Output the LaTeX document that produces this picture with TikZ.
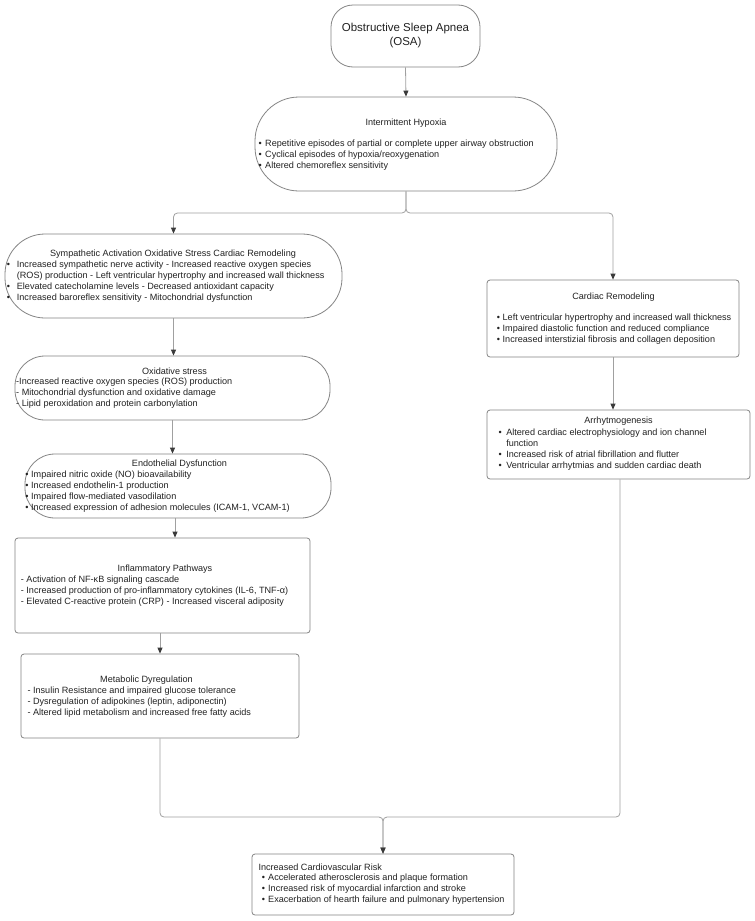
\documentclass[tikz,border=0pt]{standalone}
\usepackage{fontspec}
\setmainfont{Liberation Sans}
\usetikzlibrary{arrows.meta,calc}
\definecolor{boxline}{HTML}{858585}
\definecolor{conline}{HTML}{A0A0A0}
\definecolor{tipcol}{HTML}{3A3A3A}
\definecolor{txt}{HTML}{222222}
\newcommand\mybul[1]{•\hspace{#1}}
\newcommand\myind[1]{\hphantom{•}\hspace{#1}}
\newcommand\fst{\rule{0pt}{7pt}}
\begin{document}
\begin{tikzpicture}[x=1pt,y=-1pt,
  box/.style={draw=boxline, line width=0.8pt, inner sep=0pt},
  rbox/.style={box, rounded corners=3pt},
  con/.style={draw=conline, line width=0.8pt, rounded corners=4pt},
  arrw/.style={con, -{Triangle[width=5pt,length=6pt,color=tipcol]}},
  ttl/.style={inner sep=0pt, text=txt, font=\fontsize{9.1}{11}\selectfont, anchor=base},
  body/.style={inner sep=0pt, text=txt, font=\fontsize{9.1}{11}\selectfont, align=left, anchor=north west},
]
\fill[white] (0,0) rectangle (755,921);
\useasboundingbox (0,0) rectangle (755,921);

% Obstructive Sleep Apnea
\node[box, rounded corners=22pt, minimum width=149pt, minimum height=62pt, align=center,
      font=\fontsize{11.5}{14}\selectfont, text=txt] (osa) at (405.5,36) {Obstructive Sleep Apnea\\(OSA)};

% Intermittent Hypoxia
\node[box, rounded corners=44pt, minimum width=302pt, minimum height=94pt] (hyp) at (406,144) {};
\node[ttl] (hypT) at (406,125) {Intermittent Hypoxia};
\node[body] (hypB) at (258.4,139.5) {\fst\mybul{3.4pt}Repetitive episodes of partial or complete upper airway obstruction\\
\mybul{3.4pt}Cyclical episodes of hypoxia/reoxygenation\\
\mybul{3.4pt}Altered chemoreflex sensitivity};

% Sympathetic activation
\node[box, rounded corners=40pt, minimum width=337pt, minimum height=84pt] (symp) at (173.5,276) {};
\node[ttl] (sympT) at (173,256) {Sympathetic Activation Oxidative Stress Cardiac Remodeling};
\node[body] (sympB) at (6.7,260.3) {\fst\mybul{6.8pt}Increased sympathetic nerve activity - Increased reactive oxygen species\\
\myind{6.8pt}(ROS) production - Left ventricular hypertrophy and increased wall thickness\\
\mybul{6.8pt}Elevated catecholamine levels - Decreased antioxidant capacity\\
\mybul{6.8pt}Increased baroreflex sensitivity - Mitochondrial dysfunction};

% Oxidative stress
\node[box, rounded corners=30pt, minimum width=315pt, minimum height=64pt] (oxi) at (172.5,388) {};
\node[ttl] (oxiT) at (174.5,374) {Oxidative stress};
\node[body] (oxiB) at (16,377.7) {\fst-Increased reactive oxygen species (ROS) production\\
- Mitochondrial dysfunction and oxidative damage\\
- Lipid peroxidation and protein carbonylation};

% Endothelial dysfunction
\node[box, rounded corners=30pt, minimum width=306pt, minimum height=64pt] (endo) at (178,486) {};
\node[ttl] (endoT) at (179.5,466.3) {Endothelial Dysfunction};
\node[body] (endoB) at (25.1,470.3) {\fst\mybul{2.7pt}Impaired nitric oxide (NO) bioavailability\\
\mybul{2.7pt}Increased endothelin-1 production\\
\mybul{2.7pt}Impaired flow-mediated vasodilation\\
\mybul{2.7pt}Increased expression of adhesion molecules (ICAM-1, VCAM-1)};

% Inflammatory pathways
\node[rbox, minimum width=295pt, minimum height=95pt] (infl) at (162.5,585.5) {};
\node[ttl] (inflT) at (165,571.3) {Inflammatory Pathways};
\node[body] (inflB) at (20.7,575.3) {\fst- Activation of NF-κB signaling cascade\\
- Increased production of pro-inflammatory cytokines (IL-6, TNF-α)\\
- Elevated C-reactive protein (CRP) - Increased visceral adiposity};

% Metabolic dysregulation
\node[rbox, minimum width=278pt, minimum height=84pt] (meta) at (160,696) {};
\node[ttl] (metaT) at (146.5,682) {Metabolic Dyregulation};
\node[body] (metaB) at (27.3,686) {\fst- Insulin Resistance and impaired glucose tolerance\\
- Dysregulation of adipokines (leptin, adiponectin)\\
- Altered lipid metabolism and increased free fatty acids};

% Cardiac remodeling
\node[rbox, minimum width=252pt, minimum height=77pt] (card) at (613,318.5) {};
\node[ttl] (cardT) at (613.5,299) {Cardiac Remodeling};
\node[body] (cardB) at (496.7,313.7) {\fst\mybul{2.6pt}Left ventricular hypertrophy and increased wall thickness\\
\mybul{2.6pt}Impaired diastolic function and reduced compliance\\
\mybul{2.6pt}Increased interstizial fibrosis and collagen deposition};

% Arrhythmogenesis
\node[rbox, minimum width=263pt, minimum height=69pt] (arrh) at (618.5,444.5) {};
\node[ttl] (arrhT) at (618.5,423.7) {Arrhytmogenesis};
\node[body] (arrhB) at (498.4,428.5) {\fst\mybul{4.5pt}Altered cardiac electrophysiology and ion channel\\
\myind{4.5pt}function\\
\mybul{4.5pt}Increased risk of atrial fibrillation and flutter\\
\mybul{4.5pt}Ventricular arrhytmias and sudden cardiac death};

% Increased cardiovascular risk
\node[rbox, minimum width=262pt, minimum height=61pt] (fin) at (383,884.5) {};
\node[ttl, anchor=base west] (finT) at (258.3,870.3) {Increased Cardiovascular Risk};
\node[body] (finB) at (261.7,873.3) {\fst\mybul{3.1pt}Accelerated atherosclerosis and plaque formation\\
\mybul{3.1pt}Increased risk of myocardial infarction and stroke\\
\mybul{3.1pt}Exacerbation of hearth failure and pulmonary hypertension};

% connectors
\coordinate (split) at (404,213);
\coordinate (merge) at (383,817);
\draw[arrw] (osa.south) -- (hyp.north);
\draw[arrw] (hyp.south) -- (hyp.south |- split) -- (split -| symp.north) -- (symp.north);
\draw[arrw] (hyp.south) -- (hyp.south |- split) -- (split -| card.north) -- (card.north);
\draw[arrw] (symp.south) -- (symp.south |- oxi.north);
\draw[arrw] (oxi.south) -- (oxi.south |- endo.north);
\draw[arrw] ([xshift=-3pt]endo.south) -- ([xshift=-3pt]endo.south |- infl.north);
\draw[arrw] (meta.north |- infl.south) -- (meta.north);
\draw[arrw] (card.south) -- (card.south |- arrh.north);
\draw[arrw] (meta.south) -- (meta.south |- merge) -- (merge) -- (fin.north);
\draw[arrw] ([xshift=1.5pt]arrh.south) -- ([xshift=1.5pt]arrh.south |- merge) -- (merge) -- (fin.north);
\end{tikzpicture}
\end{document}
